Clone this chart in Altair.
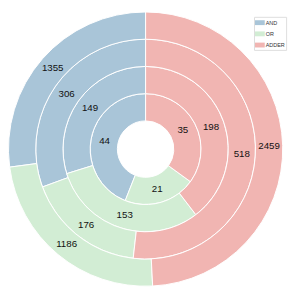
import altair as alt
import pandas as pd

rings = [1, 2, 3, 4]
categories = ["AND", "OR", "ADDER"]
order_clockwise = {"ADDER": 0, "OR": 1, "AND": 2}
AND = [44, 149, 306, 1355]
OR = [21, 153, 176, 1186]
ADDER = [35, 198, 518, 2459]
colors = ["#a9c5d8", "#d2edd4", "#f1b5b2"]

series = {"AND": AND, "OR": OR, "ADDER": ADDER}
rows = []
for cat in categories:
    for ring, v in zip(rings, series[cat]):
        rows.append({"ring": ring, "category": cat, "value": v, "ord": order_clockwise[cat]})
df = pd.DataFrame(rows)

theta_scale = alt.Scale(domain=[0, 1], range=[0, 6.283185307179586])
radius_scale = alt.Scale(type="linear", domain=[0, 4], range=[29, 141], zero=False)
cx, cy = 141.5, 141

base = alt.Chart(df).transform_joinaggregate(
    total="sum(value)", groupby=["ring"]
).transform_window(
    cum="sum(value)", sort=[alt.SortField("ord", order="ascending")],
    groupby=["ring"], frame=[None, 0]
).transform_calculate(
    start="(datum.cum - datum.value) / datum.total",
    end="datum.cum / datum.total",
    mid="(datum.cum - datum.value / 2) / datum.total",
    r_in="datum.ring - 1",
    r_mid="datum.ring - 0.5",
)

arcs = base.mark_arc(stroke="white", strokeWidth=1).encode(
    x=alt.value(cx),
    y=alt.value(cy),
    theta=alt.Theta("start:Q", stack=None, scale=theta_scale),
    theta2="end:Q",
    radius=alt.Radius("r_in:Q", scale=radius_scale),
    radius2="ring:Q",
    color=alt.Color(
        "category:N",
        scale=alt.Scale(domain=categories, range=colors),
        legend=alt.Legend(
            title=None, orient="none", legendX=253, legendY=5,
            symbolType="M-1,-0.5H1V0.5H-1Z", symbolSize=100,
            symbolStrokeWidth=0, labelFontSize=5.6, labelColor="#333",
            labelFont="Liberation Sans", labelOffset=1, rowPadding=2.5,
            padding=1, strokeColor="#dddddd", fillColor="white",
        ),
    ),
)

labels = base.mark_text(font="Liberation Sans", fontSize=10, color="#111").encode(
    x=alt.value(cx),
    y=alt.value(cy),
    theta=alt.Theta("mid:Q", stack=None, scale=theta_scale),
    radius=alt.Radius("r_mid:Q", scale=radius_scale),
    text="value:Q",
)

chart = alt.layer(arcs, labels).properties(
    width=291, height=289, padding=0, autosize=alt.AutoSizeParams(type="none")
).configure_view(stroke=None)

chart.save("out.html", embed_options={"renderer": "svg", "actions": False})
